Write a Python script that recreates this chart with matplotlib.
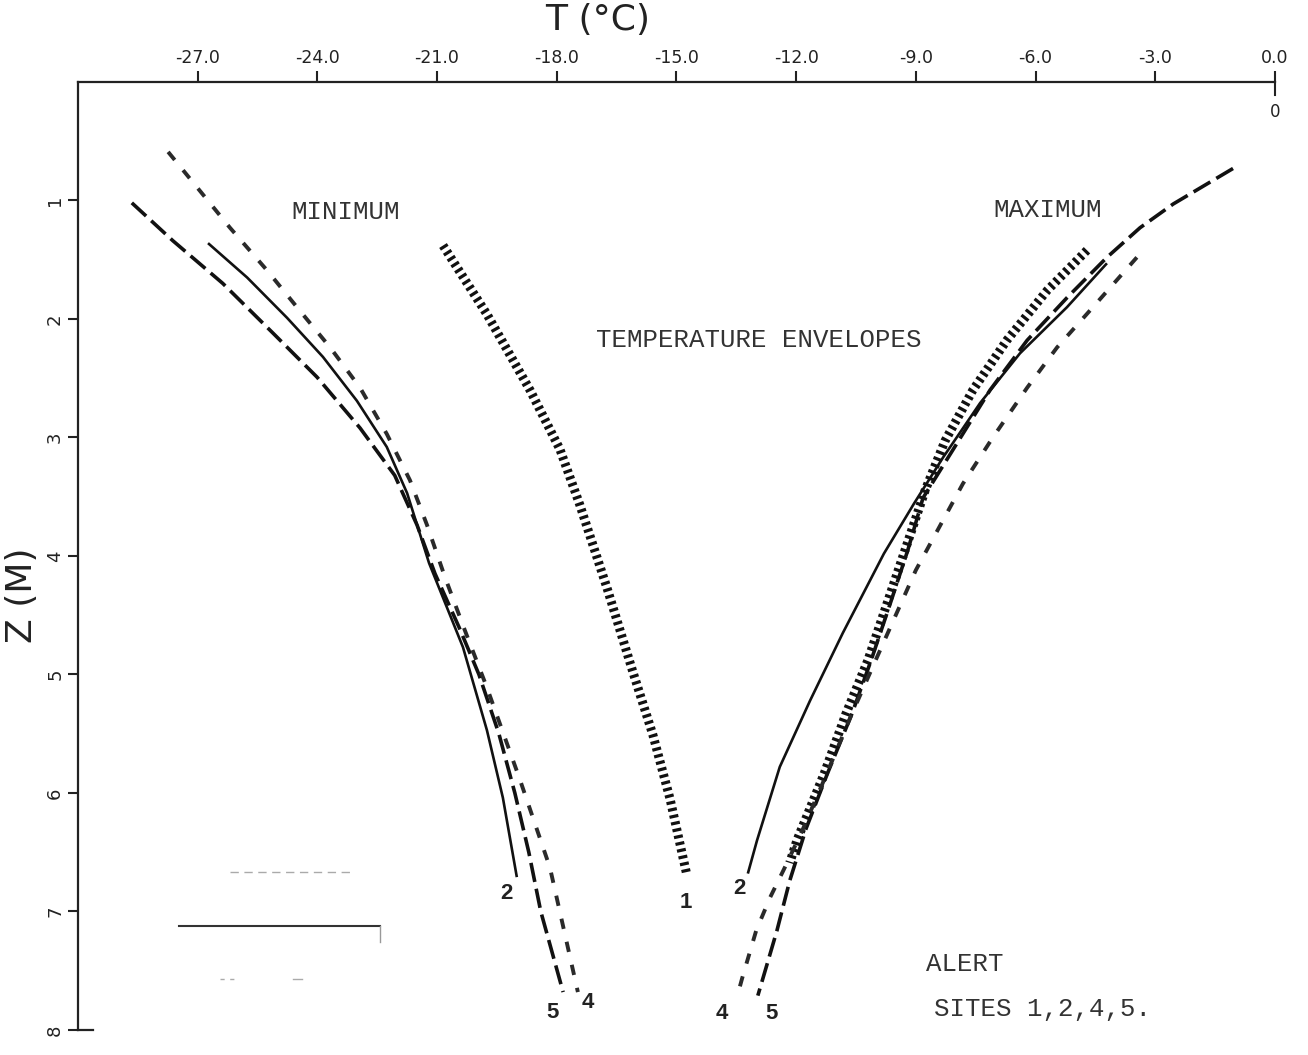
import matplotlib
matplotlib.use('Agg')
import matplotlib.pyplot as plt

plt.rcParams['lines.scale_dashes'] = False
plt.rcParams['axes.unicode_minus'] = False

# temperature (C) against depth (m) for the minimum envelopes
min5_t = [-28.65, -27.62, -26.37, -25.11, -24.01, -22.93, -22.06, -21.50, -21.05,
          -20.45, -19.95, -19.45, -19.05, -18.70, -18.40, -17.84]
min5_z = [1.02, 1.34, 1.70, 2.12, 2.49, 2.92, 3.32, 3.74, 4.15,
          4.60, 5.00, 5.50, 6.00, 6.50, 7.00, 7.68]

min2_t = [-26.74, -25.76, -24.76, -23.86, -23.01, -22.26, -21.75, -21.20, -20.35,
          -19.75, -19.35, -19.00]
min2_z = [1.36, 1.65, 1.99, 2.32, 2.69, 3.08, 3.47, 4.06, 4.77, 5.47, 6.04, 6.71]

min4_t = [-27.74, -26.94, -26.19, -25.26, -24.44, -23.68, -22.93, -22.26, -21.68,
          -21.25, -20.80, -20.30, -19.75, -18.92, -18.17, -17.47]
min4_z = [0.59, 0.92, 1.23, 1.59, 1.93, 2.24, 2.58, 2.97, 3.36,
          3.74, 4.18, 4.63, 5.11, 5.89, 6.63, 7.68]

min1_t = [-20.85, -19.75, -18.67, -17.92, -17.42, -16.74, -16.09, -15.59, -15.16, -14.74]
min1_z = [1.38, 1.96, 2.60, 3.10, 3.57, 4.27, 4.98, 5.51, 6.05, 6.69]

# maximum envelopes
max1_t = [-4.71, -5.71, -6.72, -7.57, -8.27, -8.77, -9.27, -9.70, -10.20, -10.75,
          -11.30, -11.98, -12.16]
max1_z = [1.42, 1.76, 2.18, 2.60, 3.03, 3.45, 3.95, 4.38, 4.88, 5.33, 5.84, 6.40, 6.59]

max2_t = [-4.21, -5.21, -6.39, -7.39, -8.32, -9.05, -9.80, -10.83, -11.65, -12.41,
          -12.98, -13.21]
max2_z = [1.53, 1.90, 2.29, 2.71, 3.17, 3.56, 3.98, 4.65, 5.22, 5.78, 6.40, 6.68]

max5_t = [-1.05, -2.55, -3.38, -4.21, -5.21, -6.21, -7.14, -7.97, -8.82, -9.20,
          -9.62, -10.12, -10.60, -11.22, -11.75, -12.16, -12.48, -12.75, -12.96]
max5_z = [0.73, 1.03, 1.23, 1.48, 1.82, 2.18, 2.60, 3.05, 3.51, 3.95,
          4.38, 4.88, 5.33, 5.84, 6.30, 6.74, 7.16, 7.47, 7.71]

max4_t = [-3.46, -4.56, -5.46, -6.21, -7.07, -7.82, -8.45, -9.00, -9.65, -10.10,
          -10.60, -11.30, -11.85, -12.30, -12.65, -13.00, -13.35, -13.48]
max4_z = [1.48, 1.90, 2.24, 2.58, 3.00, 3.39, 3.78, 4.12, 4.61, 4.95,
          5.33, 5.89, 6.32, 6.64, 6.88, 7.16, 7.56, 7.72]

# site number labels placed at the ends of the curves
site_labels = ['2', '5', '4', '1', '2', '4', '5']
site_label_t = [-19.26, -18.10, -17.22, -14.76, -13.41, -13.86, -12.61]
site_label_z = [6.85, 7.85, 7.77, 6.92, 6.81, 7.86, 7.86]

t_ticks = [-27.0, -24.0, -21.0, -18.0, -15.0, -12.0, -9.0, -6.0, -3.0, 0.0]
t_ticklabels = ['-27.0', '-24.0', '-21.0', '-18.0', '-15.0', '-12.0', '-9.0',
                '-6.0', '-3.0', '0.0']
z_ticks = [1, 2, 3, 4, 5, 6, 7, 8]

fig = plt.figure(figsize=(13.08, 10.55), dpi=100)
ax = fig.add_axes([0.0596, 0.0237, 0.9151, 0.8986])
ax.set_xlim(-30, 0)
ax.set_ylim(8, 0)

ink = '#111111'
solid = dict(color=ink, lw=1.9, solid_capstyle='butt', solid_joinstyle='round')
longdash = dict(color=ink, lw=2.6, dashes=(14, 5), dash_capstyle='butt')
shortdash = dict(color='#2a2a2a', lw=2.8, dashes=(7.5, 9.5), dash_capstyle='butt')
hatched = dict(color=ink, lw=6.5, dashes=(2.3, 2.7), dash_capstyle='butt')

ax.plot(min1_t, min1_z, **hatched)
ax.plot(max1_t, max1_z, **hatched)
ax.plot(min2_t, min2_z, **solid)
ax.plot(max2_t, max2_z, **solid)
ax.plot(min5_t, min5_z, **longdash)
ax.plot(max5_t, max5_z, **longdash)
ax.plot(min4_t, min4_z, **shortdash)
ax.plot(max4_t, max4_z, **shortdash)

for s, t, z in zip(site_labels, site_label_t, site_label_z):
    ax.text(t, z, s, ha='center', va='center', fontsize=16, fontweight='bold',
            family='Liberation Sans', color='#222222')

# axes: only the top (temperature) and left (depth) lines
for side in ['right', 'bottom']:
    ax.spines[side].set_visible(False)
for side in ['top', 'left']:
    ax.spines[side].set_linewidth(1.6)
    ax.spines[side].set_color('#222222')

ax.xaxis.tick_top()
ax.set_xticks(t_ticks)
ax.set_xticklabels(t_ticklabels)
ax.tick_params(axis='x', direction='out', length=8, width=1.5, pad=3,
               labelsize=12.5, colors='#222222')
ax.set_yticks(z_ticks)
ax.set_yticklabels([str(z) for z in z_ticks], rotation=90, va='center')
ax.tick_params(axis='y', direction='out', length=7, width=1.5, pad=3,
               labelsize=13, colors='#222222')

# through-tick at 0.0 and the zero mark below it, stub at the bottom of the depth axis
ax.plot([0, 0], [0, 0.11], color='#222222', lw=1.5, clip_on=False)
ax.text(0, 0.25, '0', ha='center', va='center', fontsize=12, color='#222222')
ax.plot([-30, -29.62], [8, 8], color='#222222', lw=1.6, clip_on=False)

fig.text(598 / 1308, 1 - 20 / 1055, 'T (°C)', ha='center', va='center',
         fontsize=26, color='#222222')
fig.text(22 / 1308, 1 - 595 / 1055, 'Z (M)', ha='center', va='center',
         rotation=90, fontsize=26, color='#222222')

mono = dict(family='Liberation Mono', fontsize=18.5, color='#333333')
ax.text(-23.3, 1.1, 'MINIMUM', ha='center', va='center', **mono)
ax.text(-5.7, 1.08, 'MAXIMUM', ha='center', va='center', **mono)
ax.text(-12.93, 2.18, 'TEMPERATURE ENVELOPES', ha='center', va='center', **mono)
ax.text(-8.74, 7.44, 'ALERT', ha='left', va='center', **mono)
ax.text(-8.54, 7.82, 'SITES 1,2,4,5.', ha='left', va='center', **mono)

# faded key lines in the lower left corner
tr = ax.transAxes
ax.plot([0.127, 0.230], [0.1667, 0.1667], transform=tr, color='#aaaaaa', lw=1,
        dashes=(6, 4))
ax.plot([0.0844, 0.2523], [0.1097, 0.1097], transform=tr, color='#333333', lw=1.5)
ax.plot([0.2523, 0.2523], [0.1097, 0.093], transform=tr, color='#999999', lw=1)
ax.plot([0.1186, 0.1337], [0.0538, 0.0538], transform=tr, color='#aaaaaa', lw=1,
        dashes=(3, 4))
ax.plot([0.1796, 0.1871], [0.0538, 0.0538], transform=tr, color='#aaaaaa', lw=1)

fig.savefig('out.png', dpi=100)
